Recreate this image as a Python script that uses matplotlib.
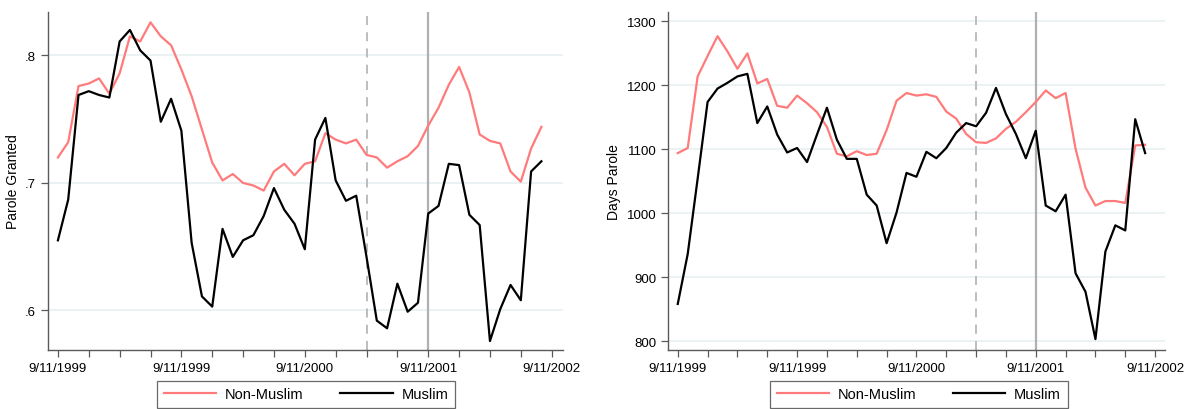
import numpy as np
import matplotlib.pyplot as plt

plt.rcParams['font.family'] = ['Liberation Sans', 'DejaVu Sans']

# months since 9/1999
months = np.arange(48)

granted_non_muslim = [0.720, 0.732, 0.776, 0.778, 0.782, 0.770, 0.786, 0.815, 0.811, 0.826,
                      0.815, 0.808, 0.789, 0.768, 0.742, 0.716, 0.702, 0.707, 0.700, 0.698,
                      0.694, 0.709, 0.715, 0.706, 0.715, 0.717, 0.739, 0.734, 0.731, 0.734,
                      0.722, 0.720, 0.712, 0.717, 0.721, 0.729, 0.745, 0.759, 0.777, 0.791,
                      0.771, 0.738, 0.733, 0.731, 0.709, 0.701, 0.727, 0.744]
granted_muslim = [0.655, 0.687, 0.769, 0.772, 0.769, 0.767, 0.811, 0.820, 0.804, 0.796,
                  0.748, 0.766, 0.741, 0.653, 0.611, 0.603, 0.664, 0.642, 0.655, 0.659,
                  0.674, 0.696, 0.679, 0.668, 0.648, 0.734, 0.751, 0.702, 0.686, 0.690,
                  0.642, 0.592, 0.586, 0.621, 0.599, 0.606, 0.676, 0.682, 0.715, 0.714,
                  0.675, 0.667, 0.576, 0.601, 0.620, 0.608, 0.709, 0.717]

days_non_muslim = [1094, 1102, 1214, 1246, 1277, 1253, 1226, 1250, 1203, 1210,
                   1168, 1165, 1184, 1172, 1158, 1135, 1093, 1089, 1097, 1091,
                   1093, 1130, 1176, 1188, 1184, 1186, 1182, 1159, 1148, 1124,
                   1111, 1110, 1117, 1132, 1143, 1158, 1174, 1192, 1180, 1188,
                   1101, 1040, 1012, 1019, 1019, 1016, 1106, 1107]
days_muslim = [858, 936, 1054, 1174, 1195, 1204, 1214, 1218, 1141, 1167,
               1123, 1095, 1102, 1080, 1123, 1165, 1115, 1085, 1085, 1029,
               1012, 953, 1001, 1063, 1057, 1096, 1086, 1102, 1126, 1141,
               1136, 1157, 1196, 1155, 1124, 1086, 1129, 1012, 1003, 1029,
               906, 877, 803, 940, 981, 973, 1147, 1094]

tick_pos = [0, 12, 24, 36, 48]
tick_labels = ["9/11/1999", "9/11/1999", "9/11/2000", "9/11/2001", "9/11/2002"]

pink = '#ff7b7b'
grid_col = '#e8f0f2'
spine_col = '#5a5a5a'

fig = plt.figure(figsize=(11.84, 4.10), dpi=100)
ax1 = fig.add_axes([0.0405, 0.144, 0.435, 0.824])
ax2 = fig.add_axes([0.5642, 0.144, 0.4198, 0.824])


def style_panel(ax, ylabel):
    ax.axvline(30, color='#b8b8b8', linestyle=(0, (5, 4)), linewidth=1.3, zorder=1)
    ax.axvline(36, color='#b0b0b0', linewidth=1.6, zorder=1)
    ax.grid(axis='y', color=grid_col, linewidth=1.2, zorder=0)
    ax.set_axisbelow(True)
    for s in ['top', 'right']:
        ax.spines[s].set_visible(False)
    for s in ['left', 'bottom']:
        ax.spines[s].set_color(spine_col)
        ax.spines[s].set_linewidth(1.0)
    ax.set_xlim(-0.97, 49.1)
    ax.set_xticks(tick_pos)
    ax.set_xticklabels(tick_labels)
    ax.set_xticks(np.arange(0, 49, 3), minor=True)
    ax.tick_params(axis='both', which='both', color=spine_col, labelsize=9.5,
                   length=5, width=0.9)
    ax.set_ylabel(ylabel, fontsize=10)


ax1.plot(months, granted_non_muslim, color=pink, linewidth=1.6, label='Non-Muslim', zorder=3)
ax1.plot(months, granted_muslim, color='black', linewidth=1.6, label='Muslim', zorder=4)
style_panel(ax1, 'Parole Granted')
ax1.set_ylim(0.569, 0.834)
ax1.set_yticks([0.6, 0.7, 0.8])
ax1.set_yticklabels(['.6', '.7', '.8'])
ax1.yaxis.labelpad = 4

ax2.plot(months, days_non_muslim, color=pink, linewidth=1.6, label='Non-Muslim', zorder=3)
ax2.plot(months, days_muslim, color='black', linewidth=1.6, label='Muslim', zorder=4)
style_panel(ax2, 'Days Parole')
ax2.set_xlim(-0.98, 49.0)
ax2.set_ylim(786, 1314.6)
ax2.set_yticks([800, 900, 1000, 1100, 1200, 1300])

for ax, cx in [(ax1, 0.2584), (ax2, 0.776)]:
    leg = ax.legend(loc='upper center', bbox_to_anchor=(cx, 0.069),
                    bbox_transform=fig.transFigure, ncol=2, fontsize=10.5,
                    frameon=True, fancybox=False, handlelength=3.6,
                    columnspacing=2.5, borderpad=0.45, handletextpad=0.6,
                    borderaxespad=0)
    leg.get_frame().set_edgecolor('#444444')
    leg.get_frame().set_linewidth(0.9)

fig.savefig('out.png', dpi=100)
